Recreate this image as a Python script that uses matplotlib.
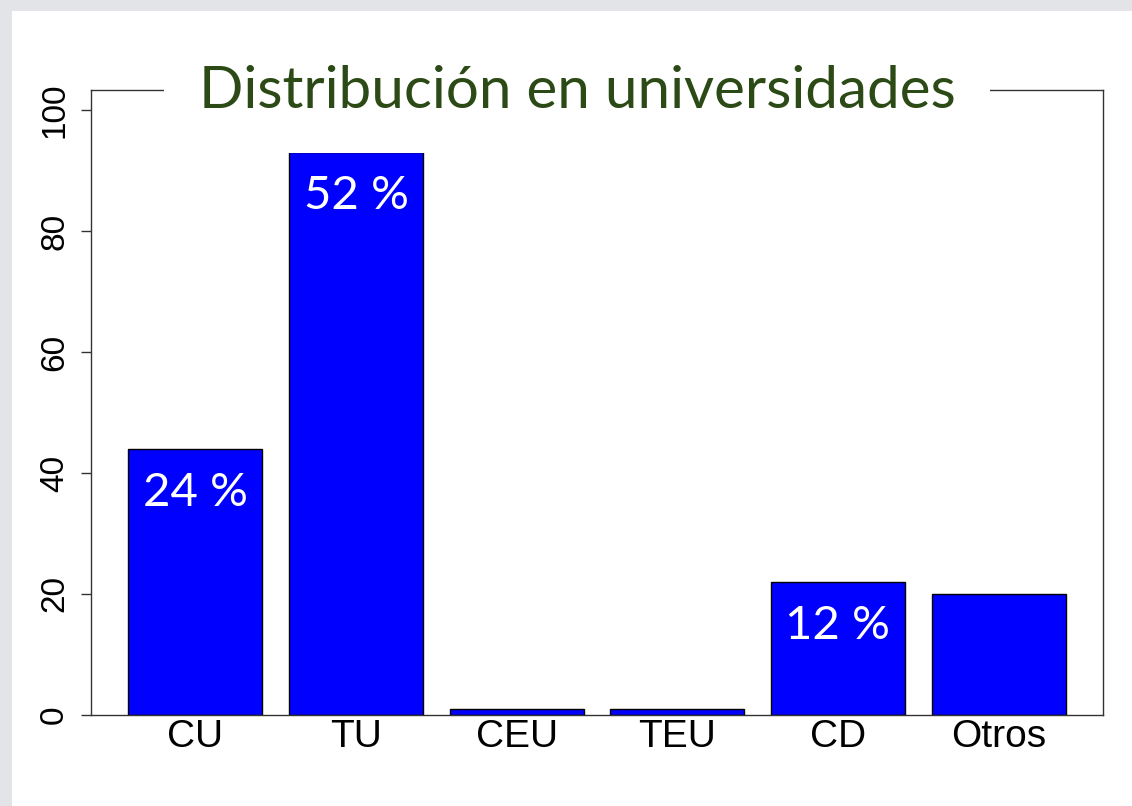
import matplotlib
matplotlib.use('Agg')
import matplotlib.pyplot as plt
from matplotlib.patches import Rectangle

# ── Data ──────────────────────────────────────────────────────────────────────
categories = ["CU", "TU", "CEU", "TEU", "CD", "Otros"]
counts     = [44, 93, 1, 1, 22, 20]
pct_labels = ["24 %", "52 %", "", "", "12 %", ""]
yticks     = [0, 20, 40, 60, 80, 100]
TITLE      = "Distribución en universidades"

W, H = 1132, 806
fig = plt.figure(figsize=(W / 100, H / 100), dpi=100)
fig.patch.set_facecolor('#e2e4e7')

# slide background (white area with grey frame at top / left)
fig.patches.append(Rectangle((12 / W, 0), 1 - 12 / W, (H - 11) / H,
                             transform=fig.transFigure, facecolor='white',
                             edgecolor='none', zorder=-5))

ax = fig.add_axes([91 / W, (H - 715) / H, (1103 - 91) / W, (715 - 90) / H])
ax.set_zorder(2)
ax.set_facecolor('white')

# R-style barplot positions: width 1, space 0.2
x = [0.7 + 1.2 * i for i in range(len(categories))]
ax.bar(x, counts, width=1.0, color='#0000ff', edgecolor='black', linewidth=1.0,
       zorder=2)

for xi, v, lab in zip(x, counts, pct_labels):
    if lab:
        ax.text(xi, v - 7.3, lab, ha='center', va='center', color='white',
                fontsize=34, family='Lato', zorder=3)

ax.set_xlim(-0.08, 7.48)
ax.set_ylim(0, 103.3)
ax.set_xticks(x)
ax.set_xticklabels(categories, fontsize=28, family='Liberation Sans')
ax.tick_params(axis='x', length=0, pad=3)
ax.set_yticks(yticks)
ax.set_yticklabels([str(t) for t in yticks], fontsize=24,
                   family='Liberation Sans', rotation=90, va='center')
ax.tick_params(axis='y', length=7, width=1, pad=8, color='#333333')
for s in ax.spines.values():
    s.set_color('#333333')
    s.set_linewidth(1.0)

t = fig.text(577 / W, (H - 91) / H, TITLE, ha='center', va='center',
             fontsize=42, family='Lato', color='#2c4a16',
             bbox=dict(facecolor='white', edgecolor='none', pad=25))
t.set_zorder(5)

fig.savefig('out.png', dpi=100)
